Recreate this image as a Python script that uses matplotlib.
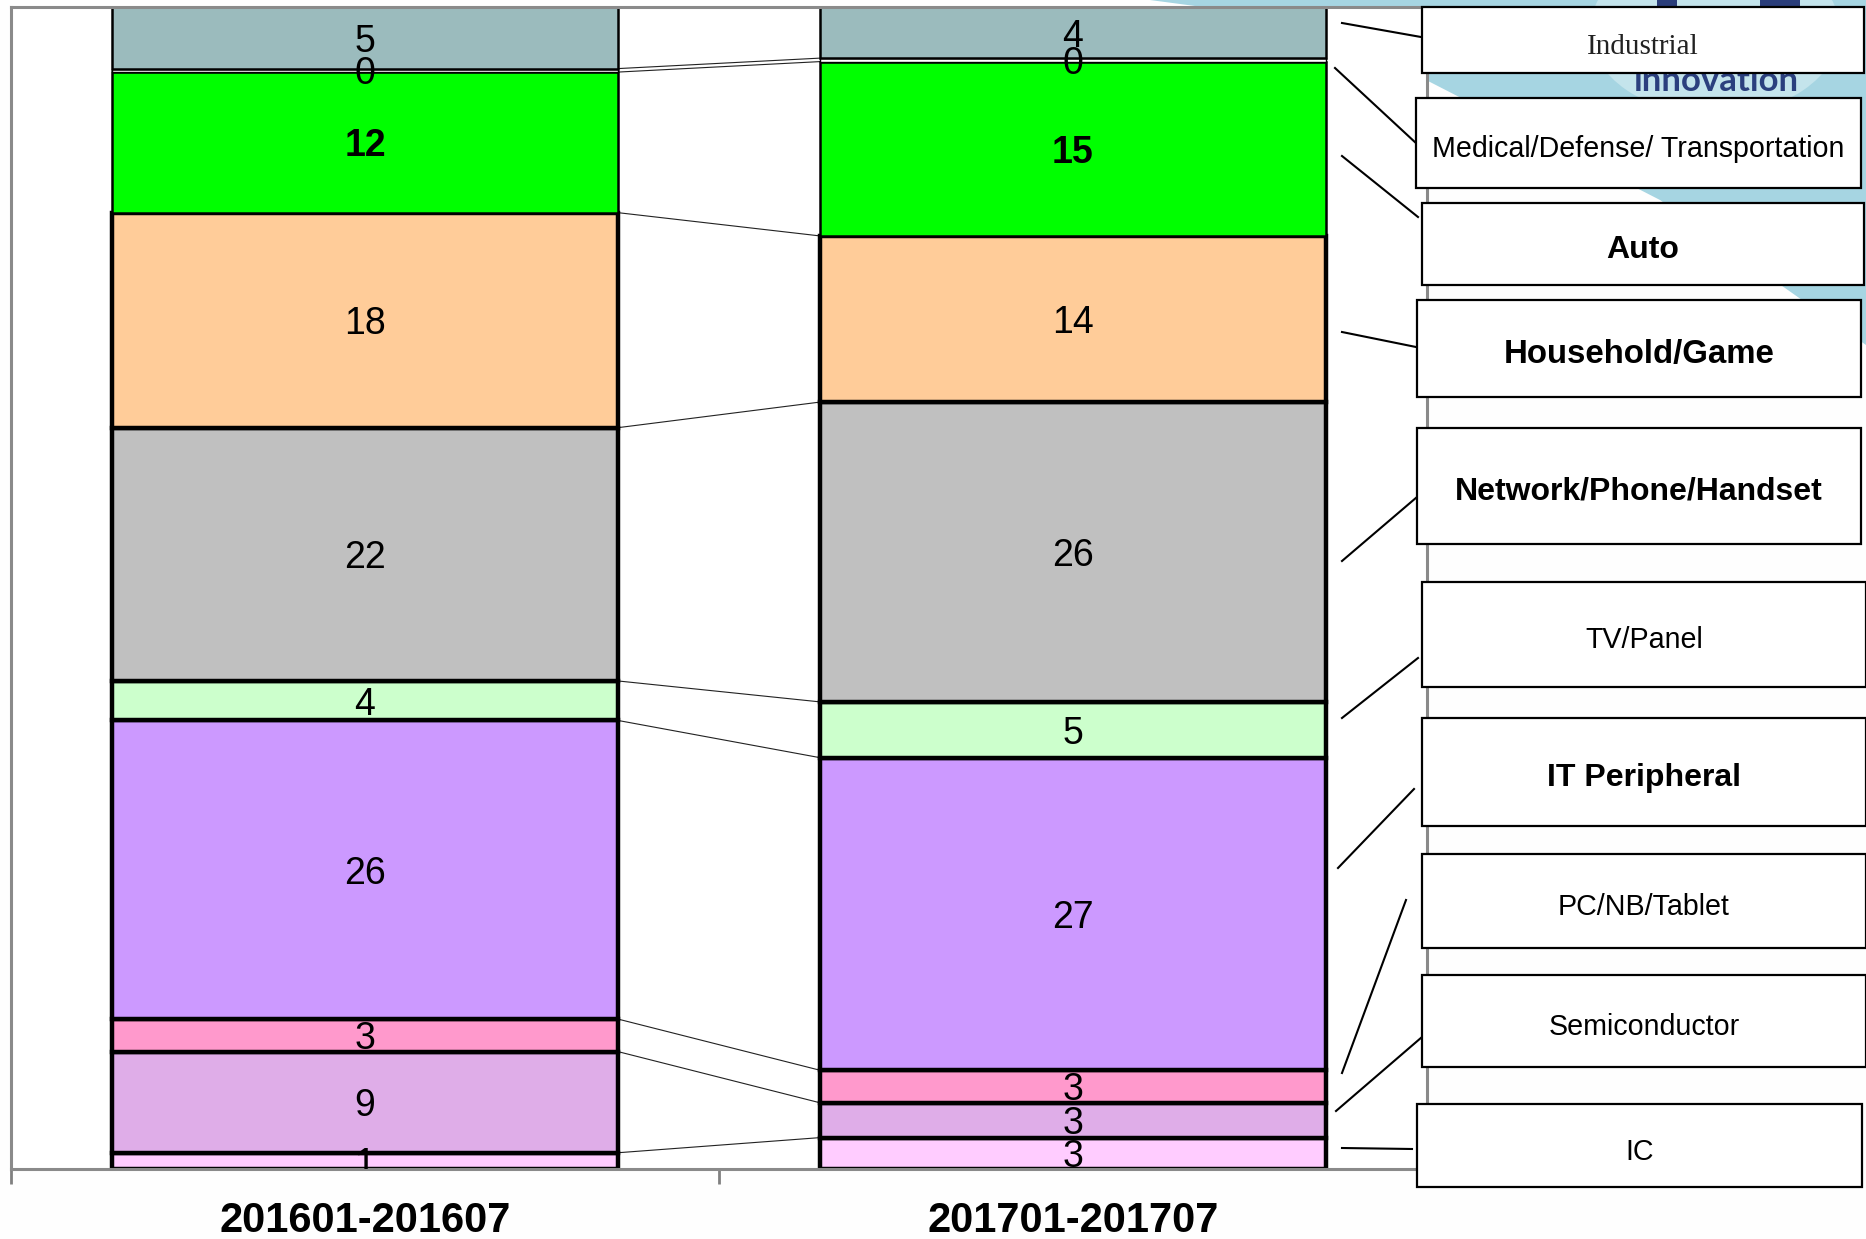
import matplotlib.pyplot as plt
from matplotlib.patches import Rectangle, Polygon, Ellipse
from matplotlib.lines import Line2D

plt.rcParams['font.family'] = ['Liberation Sans', 'DejaVu Sans']

# Data (bottom to top of each stack, % share)
periods = ["201601-201607", "201701-201707"]
segments = ["IC", "Semiconductor", "PC/NB/Tablet", "IT Peripheral", "TV/Panel",
            "Network/Phone/Handset", "Household/Game", "Auto",
            "Medical/Defense/ Transportation", "Industrial"]
share_2016 = [1.4, 8.7, 2.8, 25.7, 3.4, 21.8, 18.5, 12.1, 0.3, 5.3]
share_2017 = [2.7, 3.0, 2.8, 26.9, 4.8, 25.8, 14.3, 15.0, 0.3, 4.4]
labels_2016 = ["1", "9", "3", "26", "4", "22", "18", "12", "0", "5"]
labels_2017 = ["3", "3", "3", "27", "5", "26", "14", "15", "0", "4"]

colors = ["#FFCCFF", "#DFADE8", "#FF99CC", "#CC99FF", "#CCFFCC",
          "#C0C0C0", "#FFCC99", "#00FF00", "#FFFFFF", "#9BBBBD"]
edge_lw = [3.2, 3.2, 3.2, 3.2, 3.2, 3.2, 3.2, 1.8, 1.0, 1.8]
bold_segments = {"Auto", "Household/Game", "Network/Phone/Handset", "IT Peripheral"}

W, H = 1866, 1239
fig = plt.figure(figsize=(W / 100, H / 100), dpi=100, facecolor="#FEFEFE")


def fx(x):
    return x / W


def fy(y):
    return 1 - y / H


# slide background swoosh (top right)
fig.patches.append(Polygon([(fx(1150), fy(0)), (fx(1866), fy(0)), (fx(1866), fy(345)),
                            (fx(1660), fy(200)), (fx(1430), fy(82)), (fx(1300), fy(20))],
                           closed=True, transform=fig.transFigure, facecolor="#A6D5E2",
                           edgecolor="none", zorder=-2))
fig.patches.append(Ellipse((fx(1715), fy(30)), 250 / W, 170 / H, transform=fig.transFigure,
                           facecolor="#C4E4EC", edgecolor="none", zorder=-1))
fig.patches.append(Rectangle((fx(1657), fy(12)), 20 / W, 12 / H, transform=fig.transFigure,
                             facecolor="#2A3D7A", edgecolor="none", zorder=-1))
fig.patches.append(Rectangle((fx(1760), fy(12)), 40 / W, 12 / H, transform=fig.transFigure,
                             facecolor="#2A3D7A", edgecolor="none", zorder=-1))
fig.text(fx(1716), fy(91), "innovation", ha="center", va="baseline", fontsize=25,
         fontweight="bold", color="#2B3F7E", family=["Lato", "DejaVu Sans"], zorder=-1)

ax = fig.add_axes([fx(11), fy(1169), (1427 - 11) / W, (1169 - 7) / H], zorder=0)
ax.set_facecolor("white")

x_pos = [0, 1]
bar_w = 0.715
bottoms = [0.0, 0.0]
tops = [[], []]
for i, seg in enumerate(segments):
    vals = [share_2016[i], share_2017[i]]
    ax.bar(x_pos, vals, bar_w, bottom=bottoms, color=colors[i],
           edgecolor="black", linewidth=edge_lw[i], zorder=2)
    for j, lab in enumerate([labels_2016[i], labels_2017[i]]):
        ax.text(x_pos[j], bottoms[j] + vals[j] / 2, lab, ha="center", va="center_baseline",
                fontsize=27, fontweight="bold" if seg == "Auto" else "normal",
                zorder=4, clip_on=True)
    bottoms = [bottoms[0] + vals[0], bottoms[1] + vals[1]]
    tops[0].append(bottoms[0])
    tops[1].append(bottoms[1])

# series lines between the stacks
for k in range(len(segments) - 1):
    ax.plot([x_pos[0] + bar_w / 2, x_pos[1] - bar_w / 2], [tops[0][k], tops[1][k]],
            color="#222222", linewidth=0.8, zorder=1)

ax.set_xlim(-0.5, 1.5)
ax.set_ylim(0, 100)
ax.set_yticks([])
ax.set_xticks(x_pos)
ax.set_xticklabels(periods, fontsize=30, fontweight="bold")
ax.set_xticks([-0.5, 0.5, 1.5], minor=True)
ax.tick_params(axis="x", which="major", length=0, pad=23)
ax.tick_params(axis="x", which="minor", length=11, width=2, color="#808080")
for sp in ax.spines.values():
    sp.set_color("#8A8A8A")
    sp.set_linewidth(2.2)

# legend boxes with leader lines (pixel layout: left, top, right, bottom)
boxes = {
    "Industrial": (1422, 7, 1864, 73),
    "Medical/Defense/ Transportation": (1416, 98, 1861, 188),
    "Auto": (1422, 203, 1864, 285),
    "Household/Game": (1417, 300, 1861, 397),
    "Network/Phone/Handset": (1417, 428, 1861, 544),
    "TV/Panel": (1422, 582, 1866, 687),
    "IT Peripheral": (1422, 718, 1866, 826),
    "PC/NB/Tablet": (1422, 854, 1866, 948),
    "Semiconductor": (1422, 975, 1866, 1067),
    "IC": (1417, 1104, 1862, 1187),
}
leaders = {
    "Industrial": (1342, 23, 1421, 37),
    "Medical/Defense/ Transportation": (1335, 68, 1417, 144),
    "Auto": (1342, 156, 1418, 217),
    "Household/Game": (1342, 332, 1416, 347),
    "Network/Phone/Handset": (1342, 561, 1417, 497),
    "TV/Panel": (1342, 718, 1418, 658),
    "IT Peripheral": (1338, 868, 1414, 789),
    "PC/NB/Tablet": (1342, 1073, 1406, 900),
    "Semiconductor": (1336, 1111, 1422, 1037),
    "IC": (1342, 1148, 1412, 1149),
}
for seg in segments[::-1]:
    l, t, r, b = boxes[seg]
    fig.patches.append(Rectangle((fx(l), fy(b)), (r - l) / W, (b - t) / H,
                                 transform=fig.transFigure, facecolor="white",
                                 edgecolor="black", linewidth=1.6, zorder=3))
    x0, y0, x1, y1 = leaders[seg]
    fig.lines.append(Line2D([fx(x0), fx(x1)], [fy(y0), fy(y1)], transform=fig.transFigure,
                            color="black", linewidth=1.5, zorder=2))
    cy = (t + b) / 2 + 6
    if seg == "Industrial":
        fig.text(fx((l + r) / 2), fy(cy + 1), seg, ha="center", va="center",
                 fontsize=21, family=["Liberation Serif", "DejaVu Serif"], color="#222222",
                 zorder=4)
    elif seg in bold_segments:
        size = 23.8 if seg == "Household/Game" else 23
        fig.text(fx((l + r) / 2), fy(cy), seg, ha="center", va="center",
                 fontsize=size, fontweight="bold", zorder=4)
    else:
        fig.text(fx((l + r) / 2), fy(cy), seg, ha="center", va="center",
                 fontsize=20.6, zorder=4)

fig.savefig("out.png", dpi=100, facecolor=fig.get_facecolor())
